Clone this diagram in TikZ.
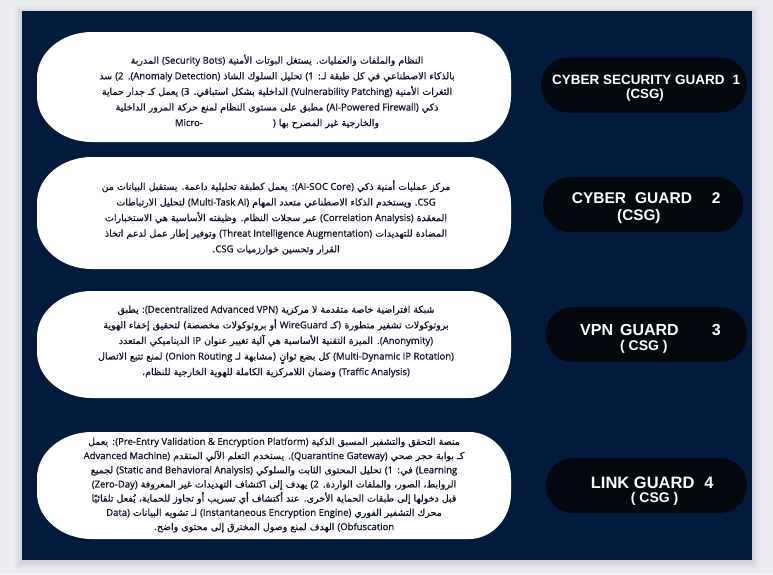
\documentclass[tikz,border=0pt]{standalone}
\usepackage{fontspec}
\TeXXeTstate=1
\newfontfamily\arfont[Script=Arabic,FakeBold=0.6]{DejaVu Sans}
\newfontfamily\latfont[FakeBold=0.9]{Open Sans}
\newfontfamily\pillfont{Liberation Sans}
\definecolor{pagebg}{HTML}{ECEDF1}
\definecolor{panel}{HTML}{011B3D}
\definecolor{pillc}{HTML}{03070E}
\definecolor{txtc}{HTML}{0B1328}
\newcommand\LT[1]{\beginL{\latfont #1}\endL}
\newcommand\ARL[1]{\beginR #1\endR}
\newcommand\rxl{55}
\newcommand\rxr{42}
\newcommand\ry{46}
\newcommand\blob[4]{%
\fill[white] ({#1+\rxl},#2) -- ({#3-\rxr},#2) arc[start angle=90,end angle=0,x radius=\rxr,y radius=\ry] -- (#3,{#4+\ry}) arc[start angle=0,end angle=-90,x radius=\rxr,y radius=\ry] -- ({#1+\rxl},#4) arc[start angle=270,end angle=180,x radius=\rxl,y radius=\ry] -- (#1,{#2-\ry}) arc[start angle=180,end angle=90,x radius=\rxl,y radius=\ry] -- cycle;}
\tikzset{
  desc/.style={align=center, text=txtc, inner sep=0pt, font=\arfont\fontsize{9.5}{15.6}\selectfont},
  pill/.style={fill=pillc, rounded corners=27pt, minimum height=55pt, inner sep=0pt},
  pilltxt/.style={text=white, inner sep=0pt, anchor=base west, font=\pillfont\bfseries}
}
\begin{document}
\begin{tikzpicture}[x=1pt,y=1pt]
\useasboundingbox (0,0) rectangle (773,-574);
\fill[pagebg] (0,0) rectangle (773,-574);
% soft shadow
\foreach \s/\o in {8/0.015,6/0.02,4/0.03,2/0.04}{
  \fill[black,opacity=\o] ({22-\s},{-10.5+\s-2}) rectangle ({752+\s},{-560-\s-2});
}
\fill[panel] (22,-10.5) rectangle (752,-560);

% white description shapes
\blob{37}{-32}{511}{-142}
\blob{37}{-157}{511}{-269}
\blob{37}{-291}{511}{-398}
\blob{37}{-432}{511}{-539}

% pills
\node[pill, minimum width=206pt] (p1) at (644,-85) {};
\node[pill, minimum width=200pt] (p2) at (643,-204.5) {};
\node[pill, minimum width=201pt] (p3) at (646.5,-334.5) {};
\node[pill, minimum width=201pt] (p4) at (646.5,-485.5) {};

\node[pilltxt, font=\pillfont\bfseries\fontsize{13.5}{14}\selectfont] (p1a) at (552,-84.8) {CYBER SECURITY GUARD\hspace{8pt}1};
\node[pilltxt, font=\pillfont\bfseries\fontsize{13.3}{14}\selectfont] (p1b) at (626,-98.8) {(CSG)};
\node[pilltxt, font=\pillfont\bfseries\fontsize{15.5}{16}\selectfont] (p2a) at (571.7,-203.5) {CYBER\hspace{9pt}GUARD\hspace{20pt}2};
\node[pilltxt, font=\pillfont\bfseries\fontsize{15.3}{16}\selectfont] (p2b) at (617,-220.5) {(CSG)};
\node[pilltxt, font=\pillfont\bfseries\fontsize{16}{16}\selectfont] (p3a) at (580,-335.7) {VPN\hspace{7pt}GUARD\hspace{33pt}3};
\node[pilltxt, font=\pillfont\bfseries\fontsize{14}{14}\selectfont] (p3b) at (620,-350) {( CSG )};
\node[pilltxt, font=\pillfont\bfseries\fontsize{16.5}{16}\selectfont] (p4a) at (590.7,-488) {LINK GUARD\hspace{10pt}4};
\node[pilltxt, font=\pillfont\bfseries\fontsize{14}{14}\selectfont] (p4b) at (630.7,-502) {( CSG )};

% descriptions
\node[desc] (d1) at (277,-91.5) {%
\ARL{النظام والملفات والعمليات. يستغل البوتات الأمنية \LT{(Security Bots)} المدربة}\\
\ARL{بالذكاء الاصطناعي في كل طبقة لـ: \LT{(1} تحليل السلوك الشاذ \LT{(Anomaly Detection)}. \LT{(2} سد}\\
\ARL{الثغرات الأمنية \LT{(Vulnerability Patching)} الداخلية بشكل استباقي. \LT{(3} يعمل كـ جدار حماية}\\
\ARL{ذكي \LT{(AI-Powered Firewall)} مطبق على مستوى النظام لمنع حركة المرور الداخلية}\\
\ARL{والخارجية غير المصرح بها \LT{Micro-\hspace{70pt})}}};

\node[desc] (d2) at (276,-217.5) {%
\ARL{مركز عمليات أمنية ذكي \LT{(AI-SOC Core)}: يعمل كطبقة تحليلية داعمة. يستقبل البيانات من}\\
\ARL{\LT{CSG}. ويستخدم الذكاء الاصطناعي متعدد المهام \LT{(Multi-Task AI)} لتحليل الارتباطات}\\
\ARL{المعقدة \LT{(Correlation Analysis)} عبر سجلات النظام. وظيفته الأساسية هي الاستخبارات}\\
\ARL{المضادة للتهديدات \LT{(Threat Intelligence Augmentation)} وتوفير إطار عمل لدعم اتخاذ}\\
\ARL{القرار وتحسين خوارزميات \LT{CSG}.}};

\node[desc] (d3) at (276,-341.5) {%
\ARL{شبكة افتراضية خاصة متقدمة لا مركزية \LT{(Decentralized Advanced VPN)}: يطبق}\\
\ARL{بروتوكولات تشفير متطورة (كـ \LT{WireGuard} أو بروتوكولات مخصصة) لتحقيق إخفاء الهوية}\\
\ARL{\LT{(Anonymity)}. الميزة التقنية الأساسية هي آلية تغيير عنوان \LT{IP} الديناميكي المتعدد}\\
\ARL{\LT{(Multi-Dynamic IP Rotation)} كل بضع ثوانٍ (مشابهة لـ \LT{(Onion Routing} لمنع تتبع الاتصال}\\
\ARL{\LT{(Traffic Analysis)} وضمان اللامركزية الكاملة للهوية الخارجية للنظام.}};

\node[desc, font=\arfont\fontsize{9.5}{14.2}\selectfont] (d4) at (274,-485) {%
\ARL{منصة التحقق والتشفير المسبق الذكية \LT{(Pre-Entry Validation \& Encryption Platform)}: يعمل}\\
\ARL{كـ بوابة حجر صحي \LT{(Quarantine Gateway)}. يستخدم التعلم الآلي المتقدم \LT{Advanced Machine)}}\\
\ARL{\LT{(Learning} في: \LT{(1} تحليل المحتوى الثابت والسلوكي \LT{(Static and Behavioral Analysis)} لجميع}\\
\ARL{الروابط، الصور، والملفات الواردة. \LT{(2} يهدف إلى اكتشاف التهديدات غير المعروفة \LT{(Zero-Day)}}\\
\ARL{قبل دخولها إلى طبقات الحماية الأخرى. عند أكتشاف أي تسريب أو تجاوز للحماية، يُفعل تلقائيًا}\\
\ARL{محرك التشفير الفوري \LT{(Instantaneous Encryption Engine)} لـ تشويه البيانات \LT{Data)}}\\
\ARL{\LT{(Obfuscation} الهدف لمنع وصول المخترق إلى محتوى واضح.}};
\end{tikzpicture}
\end{document}
